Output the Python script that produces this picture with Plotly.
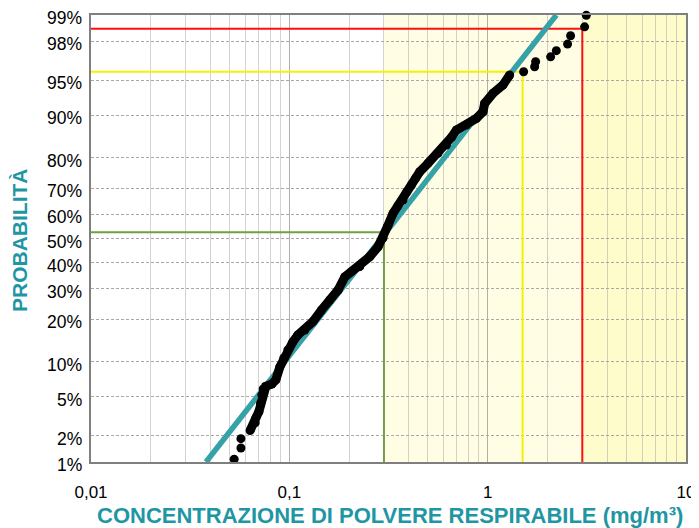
import math
from statistics import NormalDist
import plotly.graph_objects as go

# ---- data ----
conc = [0.0527, 0.0570, 0.0570, 0.0634, 0.0673, 0.0678, 0.0702, 0.0716, 0.0727, 0.0738,
        0.0761, 0.0816, 0.0855, 0.0896, 0.0938, 0.0983, 0.1041, 0.1104, 0.1197, 0.1314,
        0.1453, 0.1600, 0.1761, 0.1904, 0.2058, 0.2265, 0.2543, 0.2802, 0.2968, 0.3135,
        0.3334, 0.3521, 0.3744, 0.3908, 0.4126, 0.4337, 0.4543, 0.5001, 0.5618, 0.6194,
        0.6587, 0.6956, 0.7809, 0.8770, 0.9470, 0.9660, 1.063, 1.194, 1.291, 1.518,
        1.725, 1.745, 2.077, 2.219, 2.529, 2.619, 3.082, 3.143]
prob = [0.0108, 0.0146, 0.0186, 0.0228, 0.0276, 0.0309, 0.0357, 0.0432, 0.0517, 0.0587,
        0.0618, 0.0650, 0.0705, 0.0906, 0.1068, 0.1230, 0.1407, 0.1577, 0.1705, 0.1933,
        0.2284, 0.2611, 0.2960, 0.3444, 0.3649, 0.3846, 0.4249, 0.4660, 0.5020, 0.5517,
        0.6034, 0.6324, 0.6556, 0.6858, 0.7111, 0.7355, 0.7565, 0.7830, 0.8124, 0.8347,
        0.8546, 0.8706, 0.8812, 0.8945, 0.9065, 0.9203, 0.9346, 0.9449, 0.9556, 0.9587,
        0.9631, 0.9671, 0.9707, 0.9747, 0.9785, 0.9826, 0.9862, 0.9899]
dense_first, dense_last = 3, 49   # points that merge into a continuous band

fit_conc = [0.038, 2.22]
fit_prob = [0.01, 0.99]

ref_conc = [0.3, 1.5, 3.0]
ref_prob = [0.526, 0.9587, 0.9855]
ref_colors = ["#71A043", "#F5F200", "#FF1010"]

band_edges = [0.3, 3.0, 10.0]
band_colors = ["#FFFEE4", "#FFFCCB"]

y_tick_probs = [0.01, 0.02, 0.05, 0.10, 0.20, 0.30, 0.40, 0.50, 0.60, 0.70, 0.80, 0.90, 0.95, 0.98, 0.99]
y_tick_text = ["1%", "2%", "5%", "10%", "20%", "30%", "40%", "50%", "60%", "70%", "80%", "90%", "95%", "98%", "99%"]
x_tick_vals = [0.01, 0.1, 1, 10]
x_tick_text = ["0,01", "0,1", "1", "10"]
x_minor_vals = [m * 10 ** e for e in (-2, -1, 0) for m in range(2, 10)]

nd = NormalDist()
def zq(p):
    return nd.inv_cdf(p)

FONT = "Liberation Sans, Arial, sans-serif"
TEAL = "#1E96A3"

fig = go.Figure()

# reference lines
for xc, pc, col in zip(ref_conc, ref_prob, ref_colors):
    fig.add_trace(go.Scatter(
        x=[x_tick_vals[0], xc, xc], y=[zq(pc), zq(pc), zq(y_tick_probs[0])],
        mode="lines", line=dict(color=col, width=2), hoverinfo="skip", showlegend=False))

# fitted log-normal line
fig.add_trace(go.Scatter(
    x=fit_conc, y=[zq(p) for p in fit_prob], mode="lines",
    line=dict(color="#36A2A7", width=5.5), showlegend=False))

# dense band of the empirical points
fig.add_trace(go.Scatter(
    x=conc[dense_first:dense_last], y=[zq(p) for p in prob[dense_first:dense_last]],
    mode="lines", line=dict(color="black", width=9), showlegend=False, hoverinfo="skip"))

# empirical points
fig.add_trace(go.Scatter(
    x=conc, y=[zq(p) for p in prob], mode="markers",
    marker=dict(color="black", size=9), cliponaxis=False, showlegend=False))

shapes = []
for i, col in enumerate(band_colors):
    shapes.append(dict(type="rect", xref="x", yref="paper",
                       x0=band_edges[i], x1=band_edges[i + 1],
                       y0=0, y1=1, fillcolor=col, line=dict(width=0), layer="below"))
shapes.append(dict(type="line", xref="paper", yref="y", x0=0, x1=1, y0=zq(0.5), y1=zq(0.5),
                   line=dict(color="#3A3A3A", width=1, dash="3px,2px"), layer="between"))

annotations = [
    dict(text="<b>CONCENTRAZIONE DI POLVERE RESPIRABILE (mg/m³)</b>", xref="paper", yref="paper",
         x=0.502, y=-0.119, showarrow=False, font=dict(size=22, color=TEAL, family=FONT),
         xanchor="center", yanchor="middle"),
    dict(text="<b>PROBABILITÀ</b>", xref="paper", yref="paper", textangle=-90,
         x=-0.119, y=0.497, showarrow=False, font=dict(size=21, color=TEAL, family=FONT),
         xanchor="center", yanchor="middle"),
]
# y tick labels (sit slightly below their gridlines, as in the original)
for p, t in zip(y_tick_probs, y_tick_text):
    annotations.append(dict(text=t, xref="paper", yref="y", x=0, y=zq(p), showarrow=False,
                            xanchor="right", yanchor="middle", xshift=-7, yshift=-3,
                            font=dict(size=17.5, color="black", family=FONT)))

# the page body has an 8px default margin, so the figure is 8px smaller
fig.update_layout(
    width=691, height=520,
    margin=dict(l=83, r=13, t=7, b=66, autoexpand=False),
    paper_bgcolor="white", plot_bgcolor="white",
    font=dict(family=FONT, color="black"),
    shapes=shapes,
    annotations=annotations,
)

fig.update_xaxes(
    type="log", range=[-2, 1], automargin=False,
    tickmode="array", tickvals=x_tick_vals, ticktext=x_tick_text,
    tickfont=dict(size=17, family=FONT), ticks="", ticklabelstandoff=14,
    ticklabeloverflow="allow",
    showgrid=True, gridcolor="rgba(110,110,110,0.55)", gridwidth=1,
    minor=dict(tickvals=x_minor_vals, showgrid=True, gridcolor="rgba(140,140,140,0.38)", gridwidth=1, ticks=""),
    showline=True, linecolor="#7F7F7F", linewidth=2, mirror=True, zeroline=False,
)
fig.update_yaxes(
    range=[zq(y_tick_probs[0]) - 1e-6, zq(y_tick_probs[-1]) + 1e-6], automargin=False,
    tickmode="array", tickvals=[zq(p) for p in y_tick_probs], showticklabels=False, ticks="",
    showgrid=True, gridcolor="#A8A8A8", gridwidth=1, griddash="3px,2px",
    showline=True, linecolor="#7F7F7F", linewidth=2, mirror=True, zeroline=False,
)

fig.write_html("out.html")
